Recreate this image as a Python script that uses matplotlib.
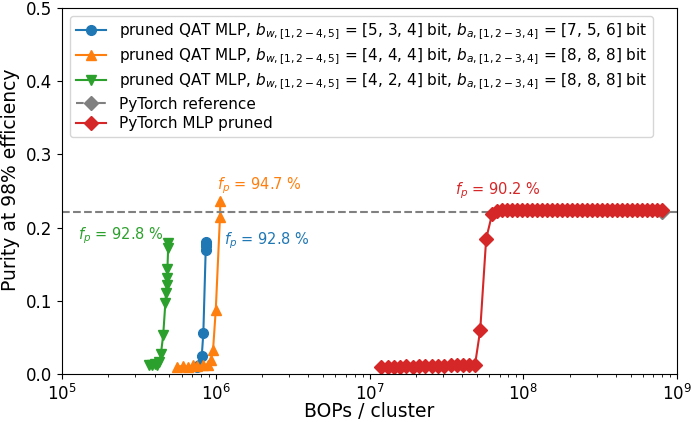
import numpy as np
import matplotlib
matplotlib.use('Agg')
import matplotlib.pyplot as plt

plt.rcParams['font.size'] = 12

# pruned QAT MLP, b_w = [5, 3, 4]
bops_qat1 = [7.5e5, 7.8e5, 8.11e5, 8.30e5, 8.60e5, 8.62e5, 8.63e5, 8.64e5]
pur_qat1 = [0.010, 0.013, 0.025, 0.056, 0.170, 0.175, 0.178, 0.180]

# pruned QAT MLP, b_w = [4, 4, 4]
bops_qat2 = [5.6e5, 6.1e5, 6.6e5, 7.1e5, 7.6e5, 8.2e5, 8.9e5, 9.3e5, 9.6e5, 1.0e6, 1.065e6, 1.07e6]
pur_qat2 = [0.010, 0.011, 0.010, 0.012, 0.011, 0.012, 0.013, 0.019, 0.033, 0.088, 0.215, 0.237]

# pruned QAT MLP, b_w = [4, 2, 4]
bops_qat3 = [3.7e5, 3.85e5, 4.0e5, 4.15e5, 4.3e5, 4.4e5, 4.55e5, 4.7e5,
             4.75e5, 4.8e5, 4.82e5, 4.85e5, 4.9e5, 4.92e5]
pur_qat3 = [0.012, 0.013, 0.014, 0.013, 0.016, 0.028, 0.053, 0.097,
            0.110, 0.122, 0.131, 0.144, 0.172, 0.179]

# PyTorch reference
bops_ref = [7.98e8]
pur_ref = [0.222]

# PyTorch MLP pruned
bops_pr = [1.19e7, 1.31e7, 1.44e7, 1.58e7, 1.73e7, 1.91e7, 2.09e7, 2.30e7,
           2.53e7, 2.78e7, 3.05e7, 3.36e7, 3.69e7, 4.06e7, 4.46e7, 4.85e7,
           5.24e7, 5.73e7, 6.27e7,
           6.75e7, 7.27e7, 7.83e7, 8.45e7, 9.10e7, 9.82e7, 1.06e8, 1.14e8,
           1.23e8, 1.32e8, 1.43e8, 1.54e8, 1.66e8, 1.79e8, 1.92e8, 2.07e8,
           2.23e8, 2.41e8, 2.60e8, 2.80e8, 3.01e8, 3.25e8, 3.50e8, 3.78e8,
           4.06e8, 4.39e8, 4.72e8, 5.09e8, 5.48e8, 5.92e8, 6.37e8, 6.87e8,
           7.40e8, 7.98e8]
pur_pr = [0.010, 0.010, 0.010, 0.010, 0.011, 0.010, 0.011, 0.011,
          0.011, 0.011, 0.011, 0.012, 0.012, 0.012, 0.012, 0.013,
          0.060, 0.185, 0.219,
          0.223, 0.224, 0.224, 0.224, 0.224, 0.224, 0.224, 0.224,
          0.224, 0.224, 0.224, 0.224, 0.224, 0.224, 0.224, 0.224,
          0.224, 0.224, 0.224, 0.224, 0.224, 0.224, 0.224, 0.224,
          0.224, 0.224, 0.224, 0.224, 0.224, 0.224, 0.224, 0.224,
          0.224, 0.224]

lab1 = r'pruned QAT MLP, $b_{w,[1,2-4,5]}$ = [5, 3, 4] bit, $b_{a,[1,2-3,4]}$ = [7, 5, 6] bit'
lab2 = r'pruned QAT MLP, $b_{w,[1,2-4,5]}$ = [4, 4, 4] bit, $b_{a,[1,2-3,4]}$ = [8, 8, 8] bit'
lab3 = r'pruned QAT MLP, $b_{w,[1,2-4,5]}$ = [4, 2, 4] bit, $b_{a,[1,2-3,4]}$ = [8, 8, 8] bit'

fig = plt.figure(figsize=(6.91, 4.22), dpi=100)
ax = fig.add_axes([0.0897, 0.1137, 0.8903, 0.8673])

ax.plot(bops_qat1, pur_qat1, '-o', color='tab:blue', ms=7, label=lab1)
ax.plot(bops_qat2, pur_qat2, '-^', color='tab:orange', ms=7, label=lab2)
ax.plot(bops_qat3, pur_qat3, '-v', color='tab:green', ms=7, label=lab3)
ax.plot(bops_ref, pur_ref, '--D', color='gray', ms=7, label='PyTorch reference')
ax.axhline(pur_ref[0], ls='--', color='gray')
ax.plot(bops_pr, pur_pr, '-D', color='tab:red', ms=7, label='PyTorch MLP pruned')

ax.text(1.13e6, 0.182, r'$f_p$ = 92.8 %', color='tab:blue', va='center', fontsize=10.5)
ax.text(1.02e6, 0.257, r'$f_p$ = 94.7 %', color='tab:orange', va='center', fontsize=10.5)
ax.text(1.27e5, 0.189, r'$f_p$ = 92.8 %', color='tab:green', va='center', fontsize=10.5)
ax.text(3.6e7, 0.251, r'$f_p$ = 90.2 %', color='tab:red', va='center', fontsize=10.5)

ax.set_xscale('log')
ax.set_xlim(1e5, 1e9)
ax.set_ylim(0, 0.5)
ax.set_xlabel('BOPs / cluster', fontsize=13.5, labelpad=-1)
ax.set_ylabel('Purity at 98% efficiency', fontsize=13.5, labelpad=1)
ax.yaxis.set_label_coords(-0.068, 0.53)
ax.legend(loc='upper left', fontsize=11, labelspacing=0.3)

fig.savefig('out.png', dpi=100)
